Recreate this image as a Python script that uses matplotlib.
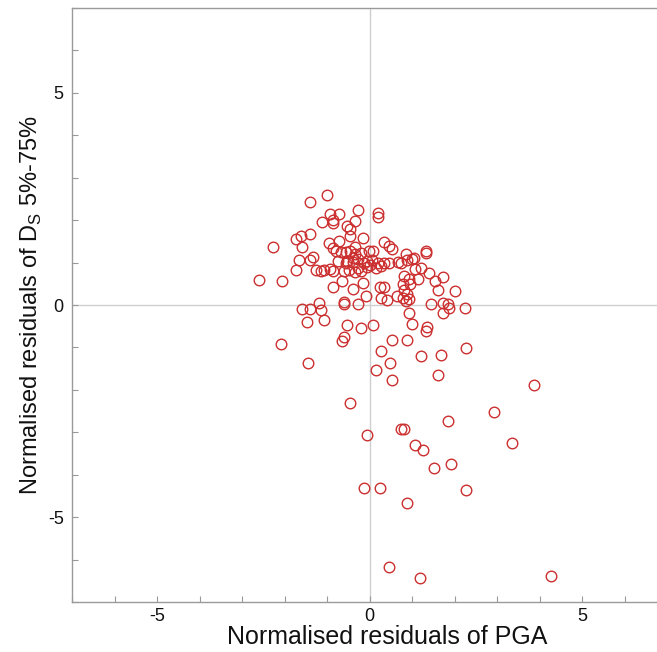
import matplotlib
matplotlib.use("Agg")
import matplotlib.pyplot as plt
from matplotlib.ticker import MultipleLocator

plt.rcParams['font.family'] = ['Liberation Sans', 'DejaVu Sans']
plt.rcParams['axes.unicode_minus'] = False

# Normalised residuals of PGA (x) and of Ds 5%-75% (y)
pga_resid = [
    -2.09, -1.44, -0.64, -0.59, -0.21, 0.09, -0.54, -1.48, -1.08, 0.52,
    0.89, 0.26, 0.49, 0.16, 0.52, 1.22, 1.69, 2.28, 1.60, 1.01,
    1.36, 1.32, -0.45, 2.92, 1.84, 0.73, 0.82, -0.05, 1.06, 1.27,
    3.36, 1.51, 1.91, -0.12, 0.24, 2.28, 0.89, 0.45, 1.18, 4.26,
    3.86, -1.58, -1.41, -1.20, -1.13, -0.59, -0.59, -0.26, 1.44, 1.74,
    1.84, 1.86, 1.74, 2.24, 0.94, -0.09, 0.28, 0.42, 0.64, 0.80,
    0.89, 0.78, 0.92, 0.85, 1.60, 2.00, 0.24, 0.35, -0.40, -0.16,
    -0.64, -0.87, -2.59, -2.07, -1.72, -1.65, -1.41, -1.32, -1.25, -1.15,
    -1.06, -0.94, -0.85, -0.73, -0.61, -0.49, -0.35, -0.28, -0.52, -0.38,
    -0.33, -0.19, -0.05, 0.07, 0.19, 0.33, 0.45, 0.16, 0.28, 0.66,
    0.75, 0.89, 1.01, 1.06, 1.20, 0.80, 0.92, 0.78, 0.96, 1.13,
    1.39, 1.55, 1.72, 1.34, 0.85, 1.04, -1.01, -1.39, -0.92, -0.71,
    -1.11, -0.87, -0.87, -0.26, 0.19, 0.19, -0.33, -0.54, -0.45, -0.45,
    -0.16, -1.72, -1.62, -1.39, -2.26, -1.58, -0.96, -0.71, -0.33, -0.02,
    0.09, -0.87, -0.78, -0.68, -0.56, -0.45, 0.33, 0.47, 0.54, 1.32,
    -0.14, -0.26, -0.07, 0.02, -0.56, -0.40, -0.21,
]
ds_resid = [
    -0.92, -1.37, -0.85, -0.75, -0.54, -0.47, -0.47, -0.40, -0.35, -0.83,
    -0.83, -1.08, -1.37, -1.53, -1.77, -1.20, -1.18, -1.01, -1.65, -0.45,
    -0.52, -0.61, -2.31, -2.52, -2.74, -2.92, -2.92, -3.07, -3.30, -3.42,
    -3.25, -3.84, -3.75, -4.32, -4.32, -4.36, -4.67, -6.18, -6.44, -6.39,
    -1.89, -0.09, -0.09, 0.05, -0.12, 0.07, 0.02, 0.02, 0.02, 0.05,
    0.02, -0.07, -0.19, -0.07, -0.19, 0.21, 0.17, 0.12, 0.21, 0.35,
    0.26, 0.17, 0.14, 0.09, 0.35, 0.33, 0.42, 0.42, 0.38, 0.52,
    0.57, 0.42, 0.59, 0.57, 0.83, 1.06, 1.06, 1.13, 0.83, 0.80,
    0.83, 0.85, 0.80, 1.04, 0.80, 0.83, 0.78, 0.87, 1.04, 1.01,
    1.20, 1.23, 1.04, 1.06, 0.99, 0.99, 0.99, 0.87, 0.92, 1.01,
    0.99, 1.06, 1.08, 0.85, 0.87, 0.68, 0.61, 0.50, 0.50, 0.61,
    0.75, 0.57, 0.66, 1.23, 1.20, 1.11, 2.59, 2.43, 2.15, 2.15,
    1.96, 2.00, 1.93, 2.24, 2.17, 2.08, 1.98, 1.86, 1.79, 1.63,
    1.58, 1.56, 1.63, 1.67, 1.37, 1.37, 1.46, 1.51, 1.37, 1.27,
    1.27, 1.34, 1.27, 1.25, 1.25, 1.27, 1.49, 1.39, 1.32, 1.27,
    0.99, 1.08, 0.90, 0.94, 0.99, 1.11, 0.80,
]

x_ticks = [-5, 0, 5]
y_ticks = [-5, 0, 5]

W, H = 657, 652
fig = plt.figure(figsize=(W / 100, H / 100), dpi=100)
# axes spans -7..7 on both axes; right part runs past the figure edge
left_px, bottom_px, width_px, height_px = 72, 50, 595, 594
ax = fig.add_axes([left_px / W, bottom_px / H, width_px / W, height_px / H])

ax.axhline(0, color='#cfcfcf', lw=1.0, zorder=1)
ax.axvline(0, color='#cfcfcf', lw=1.0, zorder=1)

ax.plot(pga_resid, ds_resid, linestyle='none', marker='o', markersize=7.6,
        markerfacecolor='none', markeredgecolor='#cc2f2f', markeredgewidth=1.0,
        zorder=3)

ax.set_xlim(-7, 7)
ax.set_ylim(-7, 7)
ax.set_xticks(x_ticks)
ax.set_yticks(y_ticks)
ax.xaxis.set_minor_locator(MultipleLocator(1))
ax.yaxis.set_minor_locator(MultipleLocator(1))
ax.tick_params(which='both', direction='in', length=4, width=0.8,
               color='#999999', labelsize=13, labelcolor='#111111')
ax.tick_params(axis='x', which='major', pad=4)
ax.tick_params(axis='y', which='major', pad=6)

for side in ('left', 'bottom', 'top'):
    ax.spines[side].set_color('#9a9a9a')
    ax.spines[side].set_linewidth(1.0)
ax.spines['right'].set_visible(False)

ax.set_xlabel('Normalised residuals of PGA', fontsize=18, color='#111111')
ax.xaxis.set_label_coords(0.53, -0.038)
ax.set_ylabel(r'Normalised residuals of D$_\mathregular{S}$ 5%-75%',
              fontsize=17, color='#111111', labelpad=3)

fig.savefig('out.png', dpi=100)
